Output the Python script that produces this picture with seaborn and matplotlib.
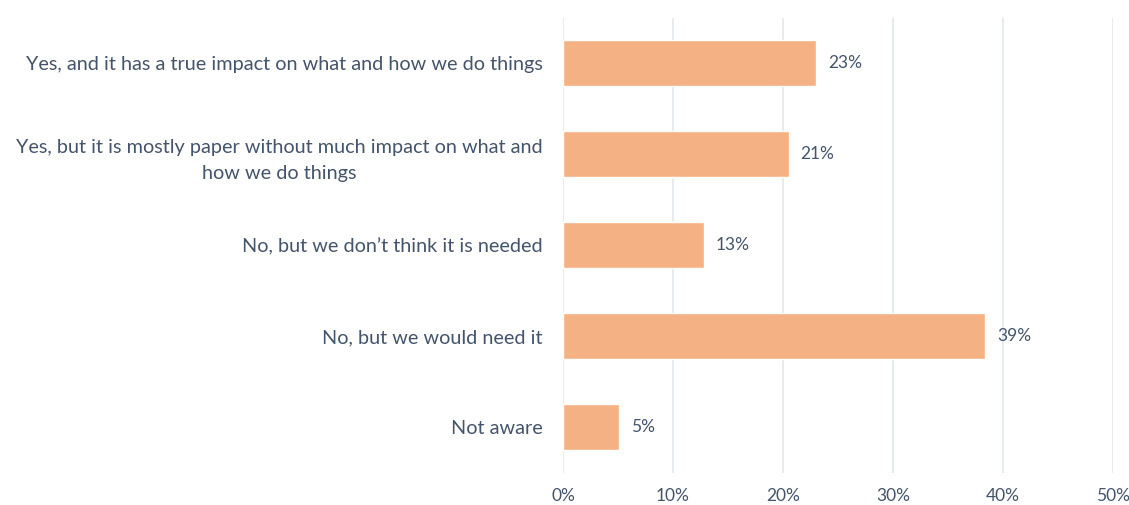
import matplotlib
matplotlib.use("Agg")
import matplotlib.pyplot as plt
import seaborn as sns
import pandas as pd

categories = [
    "Yes, and it has a true impact on what and how we do things",
    "Yes, but it is mostly paper without much impact on what and\nhow we do things",
    "No, but we don\u2019t think it is needed",
    "No, but we would need it",
    "Not aware",
]
values = [23.0, 20.5, 12.8, 38.4, 5.1]
value_labels = ["23%", "21%", "13%", "39%", "5%"]
xticks = [0, 10, 20, 30, 40, 50]
xtick_labels = ["0%", "10%", "20%", "30%", "40%", "50%"]

df = pd.DataFrame({"category": categories, "value": values})

sns.set_theme(style="white")
plt.rcParams["font.family"] = ["Lato", "DejaVu Sans"]

TEXT = "#44546A"
fig = plt.figure(figsize=(11.29, 5.05), dpi=100)
ax = fig.add_axes([563 / 1129, 1 - 472.5 / 505, 550 / 1129, 455 / 505])

ax.set_axisbelow(True)
for t in xticks:
    ax.axvline(t, color="#E3E6EB", lw=1.2, zorder=0)

sns.barplot(data=df, x="value", y="category", color="#F4B183", saturation=1,
            width=0.5, ax=ax, zorder=2)

for i, (v, lab) in enumerate(zip(values, value_labels)):
    ax.text(v + 1.1, i, lab, va="center", ha="left", fontsize=12.5, color=TEXT)

ax.set_xlim(0, 50)
ax.set_ylim(4.5, -0.5)
ax.set_xticks(xticks)
ax.set_xticklabels(xtick_labels, fontsize=12.5, color=TEXT)
ax.set_yticks(range(len(categories)))
ax.set_yticklabels(categories, fontsize=14.3, color=TEXT, multialignment="center",
                   linespacing=1.65)
ax.tick_params(axis="y", length=0, pad=14.4)
ax.tick_params(axis="x", length=0, pad=11)
ax.set_xlabel("")
ax.set_ylabel("")
for s in ax.spines.values():
    s.set_visible(False)

fig.savefig("out.png", dpi=100, facecolor="white")
